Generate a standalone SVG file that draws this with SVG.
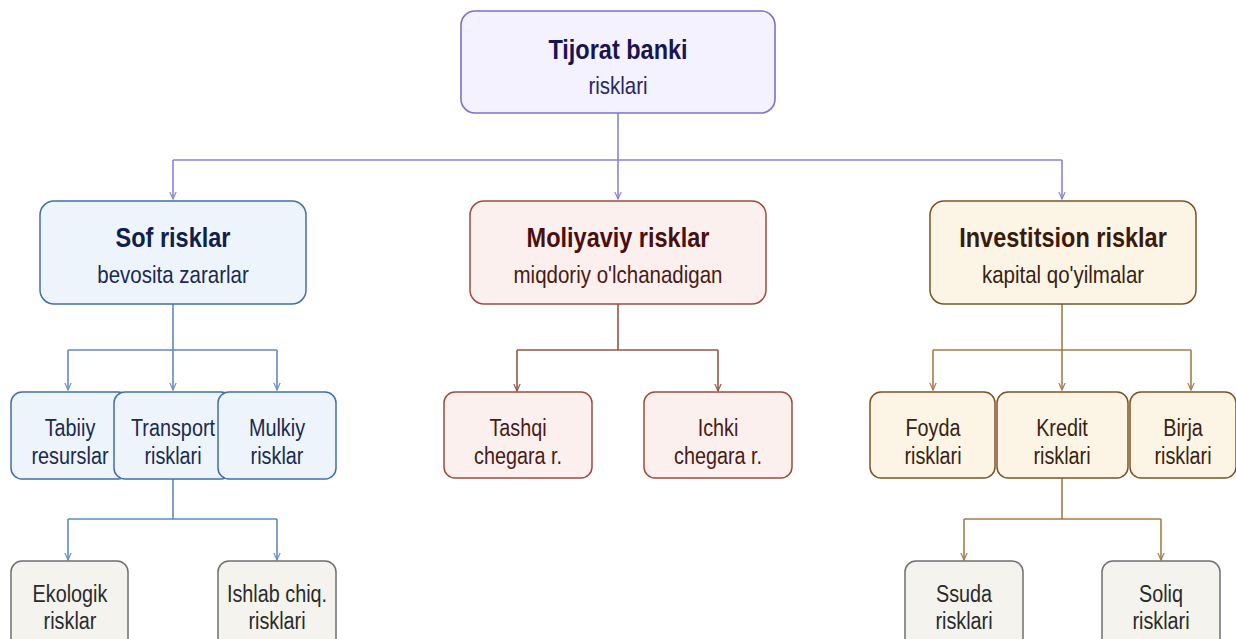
<svg xmlns="http://www.w3.org/2000/svg" width="1236" height="639" viewBox="0 0 1236 639">
<defs>
<marker id="aP" viewBox="0 0 10 10" refX="9" refY="5" markerWidth="5" markerHeight="5" orient="auto"><path d="M0,1 L9,5 L0,9" fill="none" stroke="#8a84d6" stroke-width="1.5"/></marker>
<marker id="aB" viewBox="0 0 10 10" refX="9" refY="5" markerWidth="5" markerHeight="5" orient="auto"><path d="M0,1 L9,5 L0,9" fill="none" stroke="#6b93c4" stroke-width="1.5"/></marker>
<marker id="aR" viewBox="0 0 10 10" refX="9" refY="5" markerWidth="5" markerHeight="5" orient="auto"><path d="M0,1 L9,5 L0,9" fill="none" stroke="#9a5446" stroke-width="1.5"/></marker>
<marker id="aO" viewBox="0 0 10 10" refX="9" refY="5" markerWidth="5" markerHeight="5" orient="auto"><path d="M0,1 L9,5 L0,9" fill="none" stroke="#a67b4c" stroke-width="1.5"/></marker>
</defs>
<style>
text{font-family:"Liberation Sans",Arial,sans-serif;text-anchor:middle}
.t{font-size:23.5px;font-weight:bold}
.s{font-size:20.5px}
.n{font-size:19.8px}
.root rect{fill:#f4f2ff;stroke:#7a72cc;stroke-width:1.6}
.blue rect{fill:#edf4fc;stroke:#3f70aa;stroke-width:1.5}
.red rect{fill:#fbf0ee;stroke:#a14b3c;stroke-width:1.5}
.org rect{fill:#fcf5e6;stroke:#7c5326;stroke-width:1.5}
.gray rect{fill:#f4f3ee;stroke:#6f6f6f;stroke-width:1.5}
.lp{stroke:#8a84d6;stroke-width:1.6;fill:none}
.lb{stroke:#5f8ac0;stroke-width:1.6;fill:none}
.lr{stroke:#9a5446;stroke-width:1.6;fill:none}
.lo{stroke:#a67b4c;stroke-width:1.6;fill:none}
</style>
<g id="connectors">
<path class="lp" d="M618,113 V160 M173,160 H1062"/>
<path class="lp" d="M173,160 V199" marker-end="url(#aP)"/>
<path class="lp" d="M618,160 V199" marker-end="url(#aP)"/>
<path class="lp" d="M1062,160 V199" marker-end="url(#aP)"/>
<path class="lb" d="M173,304 V350 M68,350 H277"/>
<path class="lb" d="M68,350 V390" marker-end="url(#aB)"/>
<path class="lb" d="M173,350 V390" marker-end="url(#aB)"/>
<path class="lb" d="M277,350 V390" marker-end="url(#aB)"/>
<path class="lb" d="M173,479 V519 M68,519 H277"/>
<path class="lb" d="M68,519 V560" marker-end="url(#aB)"/>
<path class="lb" d="M277,519 V560" marker-end="url(#aB)"/>
<path class="lr" d="M618,304 V350 M517,350 H718"/>
<path class="lr" d="M517,350 V391" marker-end="url(#aR)"/>
<path class="lr" d="M718,350 V391" marker-end="url(#aR)"/>
<path class="lo" d="M1062,304 V350 M933,350 H1191"/>
<path class="lo" d="M933,350 V390" marker-end="url(#aO)"/>
<path class="lo" d="M1062,350 V390" marker-end="url(#aO)"/>
<path class="lo" d="M1191,350 V390" marker-end="url(#aO)"/>
<path class="lo" d="M1062,478 V519 M964,519 H1161"/>
<path class="lo" d="M964,519 V560" marker-end="url(#aO)"/>
<path class="lo" d="M1161,519 V560" marker-end="url(#aO)"/>
</g>
<g id="root" class="root">
<rect x="461" y="11" width="314" height="102" rx="14"/>
<text class="t" transform="translate(618,59) scale(1,1.15)" fill="#1a1452">Tijorat banki</text>
<text class="s" transform="translate(618,94) scale(1,1.15)" fill="#2a2466">risklari</text>
</g>
<g id="sof" class="blue">
<rect x="40" y="201" width="266" height="103" rx="14"/>
<text class="t" transform="translate(173,247) scale(1,1.15)" fill="#10204a">Sof risklar</text>
<text class="s" transform="translate(173,283) scale(1,1.15)" fill="#1a2a50">bevosita zararlar</text>
</g>
<g id="moliyaviy" class="red">
<rect x="470" y="201" width="296" height="103" rx="14"/>
<text class="t" transform="translate(618,247) scale(1,1.15)" fill="#4a0f0c">Moliyaviy risklar</text>
<text class="s" transform="translate(618,283) scale(1,1.15)" fill="#4a1a14">miqdoriy o'lchanadigan</text>
</g>
<g id="investitsion" class="org">
<rect x="930" y="201" width="266" height="103" rx="14"/>
<text class="t" transform="translate(1063,247) scale(1,1.15)" fill="#3a1a08">Investitsion risklar</text>
<text class="s" transform="translate(1063,283) scale(1,1.15)" fill="#3a2210">kapital qo'yilmalar</text>
</g>
<g id="tabiiy" class="blue">
<rect x="11" y="392" width="118" height="87" rx="11"/>
<text class="n" transform="translate(70,436) scale(1,1.25)" fill="#1a2a50">Tabiiy</text>
<text class="n" transform="translate(70,464) scale(1,1.25)" fill="#1a2a50">resurslar</text>
</g>
<g id="transport" class="blue">
<rect x="114" y="392" width="118" height="87" rx="11"/>
<text class="n" transform="translate(173,436) scale(1,1.25)" fill="#1a2a50">Transport</text>
<text class="n" transform="translate(173,464) scale(1,1.25)" fill="#1a2a50">risklari</text>
</g>
<g id="mulkiy" class="blue">
<rect x="218" y="392" width="118" height="87" rx="11"/>
<text class="n" transform="translate(277,436) scale(1,1.25)" fill="#1a2a50">Mulkiy</text>
<text class="n" transform="translate(277,464) scale(1,1.25)" fill="#1a2a50">risklar</text>
</g>
<g id="ekologik" class="gray">
<rect x="11" y="561" width="117" height="90" rx="11"/>
<text class="n" transform="translate(70,602) scale(1,1.25)" fill="#2a2a2a">Ekologik</text>
<text class="n" transform="translate(70,629) scale(1,1.25)" fill="#2a2a2a">risklar</text>
</g>
<g id="ishlab" class="gray">
<rect x="218" y="561" width="118" height="90" rx="11"/>
<text class="n" transform="translate(277,602) scale(1,1.25)" fill="#2a2a2a">Ishlab chiq.</text>
<text class="n" transform="translate(277,629) scale(1,1.25)" fill="#2a2a2a">risklari</text>
</g>
<g id="tashqi" class="red">
<rect x="444" y="392" width="148" height="86" rx="11"/>
<text class="n" transform="translate(518,436) scale(1,1.25)" fill="#4a1a14">Tashqi</text>
<text class="n" transform="translate(518,464) scale(1,1.25)" fill="#4a1a14">chegara r.</text>
</g>
<g id="ichki" class="red">
<rect x="644" y="392" width="148" height="86" rx="11"/>
<text class="n" transform="translate(718,436) scale(1,1.25)" fill="#4a1a14">Ichki</text>
<text class="n" transform="translate(718,464) scale(1,1.25)" fill="#4a1a14">chegara r.</text>
</g>
<g id="foyda" class="org">
<rect x="870" y="392" width="125" height="86" rx="11"/>
<text class="n" transform="translate(933,436) scale(1,1.25)" fill="#3a2210">Foyda</text>
<text class="n" transform="translate(933,464) scale(1,1.25)" fill="#3a2210">risklari</text>
</g>
<g id="kredit" class="org">
<rect x="997" y="392" width="131" height="86" rx="11"/>
<text class="n" transform="translate(1062,436) scale(1,1.25)" fill="#3a2210">Kredit</text>
<text class="n" transform="translate(1062,464) scale(1,1.25)" fill="#3a2210">risklari</text>
</g>
<g id="birja" class="org">
<rect x="1130" y="392" width="106" height="86" rx="11"/>
<text class="n" transform="translate(1183,436) scale(1,1.25)" fill="#3a2210">Birja</text>
<text class="n" transform="translate(1183,464) scale(1,1.25)" fill="#3a2210">risklari</text>
</g>
<g id="ssuda" class="gray">
<rect x="905" y="561" width="118" height="90" rx="11"/>
<text class="n" transform="translate(964,602) scale(1,1.25)" fill="#2a2a2a">Ssuda</text>
<text class="n" transform="translate(964,629) scale(1,1.25)" fill="#2a2a2a">risklari</text>
</g>
<g id="soliq" class="gray">
<rect x="1102" y="561" width="118" height="90" rx="11"/>
<text class="n" transform="translate(1161,602) scale(1,1.25)" fill="#2a2a2a">Soliq</text>
<text class="n" transform="translate(1161,629) scale(1,1.25)" fill="#2a2a2a">risklari</text>
</g>
</svg>
